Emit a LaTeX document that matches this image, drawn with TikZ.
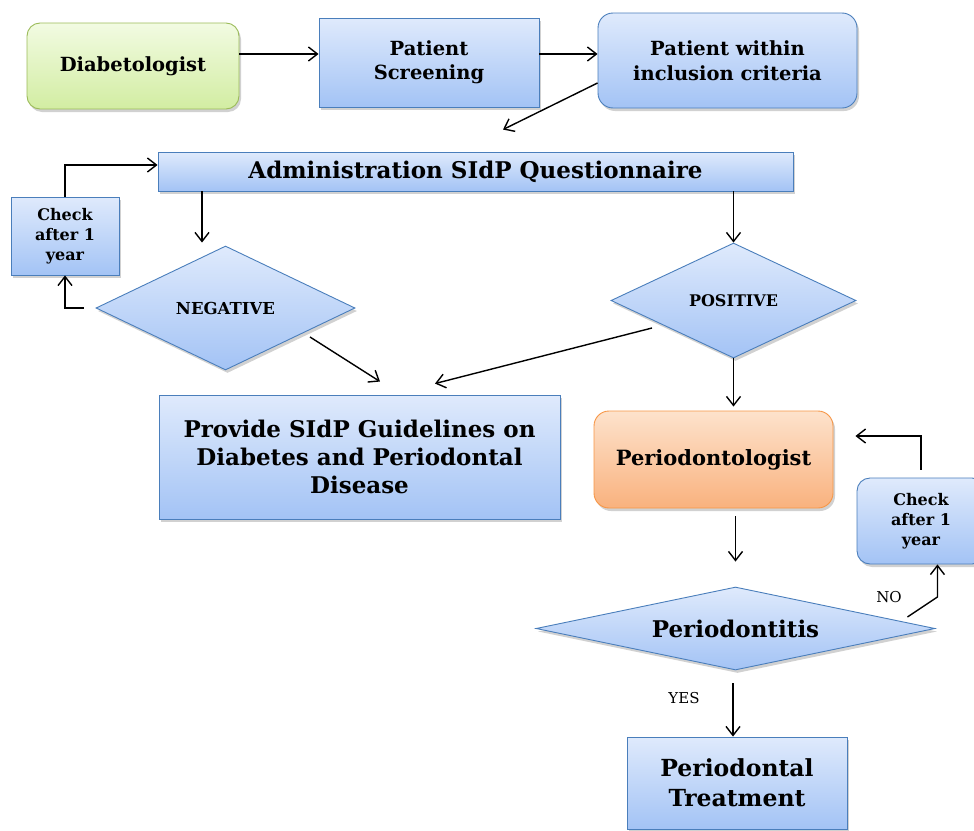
\documentclass[tikz,border=0pt]{standalone}
\usepackage{fontspec}
\setmainfont{DejaVu Serif}
\usetikzlibrary{arrows.meta,shapes.geometric,shadows,calc}
\definecolor{bluetop}{HTML}{DFEAFC}
\definecolor{bluebot}{HTML}{A3C3F5}
\definecolor{blueline}{HTML}{4A7EBB}
\definecolor{greentop}{HTML}{F2FBE2}
\definecolor{greenbot}{HTML}{D2EDA2}
\definecolor{greenline}{HTML}{9BBB59}
\definecolor{orangetop}{HTML}{FDE2CC}
\definecolor{orangebot}{HTML}{F9B27E}
\definecolor{orangeline}{HTML}{F79646}
\newcommand{\fs}[2]{\fontsize{#1}{#2}\selectfont}
\tikzset{
  shad/.style={drop shadow={shadow xshift=2pt,shadow yshift=-3pt,opacity=0.3,fill=black!60}},
  bluebox/.style={shad,draw=blueline,line width=0.9pt,top color=bluetop,bottom color=bluebot,
    align=center,inner sep=2pt},
  greenbox/.style={shad,draw=greenline,line width=0.9pt,top color=greentop,bottom color=greenbot,
    align=center,rounded corners=13pt},
  orangebox/.style={shad,draw=orangeline,line width=0.9pt,top color=orangetop,bottom color=orangebot,
    align=center,rounded corners=15pt},
  dia/.style={bluebox,diamond,inner sep=0pt},
  arr/.style={line width=1.4pt,-{Straight Barb[length=9pt,width=14pt,line width=1.4pt]}},
  lbl/.style={font=\fs{15}{18},inner sep=0pt}
}
\begin{document}
\begin{tikzpicture}[x=1pt,y=-1pt]
\useasboundingbox (0,0) rectangle (974,830);
% nodes
\node[greenbox,minimum width=212pt,minimum height=86pt,font=\bfseries\fs{19.5}{24}] (diab) at (133,66) {Diabetologist};
\node[bluebox,minimum width=220pt,minimum height=89pt,font=\bfseries\fs{19.5}{24}] (ps) at (429,62.5) {Patient\\Screening};
\node[bluebox,rounded corners=15pt,minimum width=259pt,minimum height=95pt,font=\bfseries\fs{19.5}{25}] (pwic) at (727.5,60.5) {Patient within\\inclusion criteria};
\node[bluebox,minimum width=635pt,minimum height=39pt,font=\bfseries\fs{23}{27}] (admin) at (475.5,171.5) {Administration SIdP Questionnaire};
\node[bluebox,minimum width=108pt,minimum height=78pt,font=\bfseries\fs{16}{20}] (chk1) at (65,236) {Check\\after 1\\year};
\node[dia,aspect=2.09,minimum width=259pt,minimum height=124pt,font=\bfseries\fs{16.5}{18}] (neg) at (225.5,308) {NEGATIVE};
\node[dia,aspect=2.13,minimum width=245pt,minimum height=115pt,font=\bfseries\fs{16}{18}] (pos) at (733.5,300.5) {POSITIVE};
\node[bluebox,minimum width=401pt,minimum height=124pt,font=\bfseries\fs{23}{28}] (prov) at (359.5,457) {Provide SIdP Guidelines on\\Diabetes and Periodontal\\Disease};
\node[orangebox,minimum width=239pt,minimum height=97pt,font=\bfseries\fs{21}{25}] (perio) at (713.5,459.5) {Periodontologist};
\node[bluebox,rounded corners=13pt,minimum width=128pt,minimum height=86pt,font=\bfseries\fs{16}{20}] (chk2) at (921,521) {Check\\after 1\\year};
\node[dia,aspect=4.8,minimum width=399pt,minimum height=83pt,font=\bfseries\fs{23}{27}] (pdx) at (735.5,628.5) {Periodontitis};
\node[bluebox,minimum width=220pt,minimum height=92pt,font=\bfseries\fs{23.5}{30}] (treat) at (737,783) {Periodontal\\Treatment};
% labels
\node[lbl] (nolbl) at (889,597) {NO};
\node[lbl] (yeslbl) at (684,698) {YES};
% connectors
\draw[arr] ([yshift=12pt]diab.east) -- ([yshift=12pt]diab.east -| ps.west);
\draw[arr] ([yshift=8.5pt]ps.east) -- ([yshift=8.5pt]ps.east -| pwic.west);
\draw[arr] ($(pwic.west)+(0,22.5)$) -- ($(admin.north)+(27.5,-22)$);
\draw[arr] (chk1.north) |- ($(admin.west)+(0,-6.5)$);
\coordinate (a1) at ($(admin.south)+(-273.5,0)$);
\draw[arr] (a1) -- ($(a1 |- neg.north)+(0,-3)$);
\draw[arr] ($(neg.west)+(-12,0)$) -| (chk1.south);
\draw[arr] ($(neg.center)+(84.5,29)$) -- ($(prov.north)+(20.5,-13)$);
\draw[arr] (admin.south -| pos.north) -- (pos.north);
\draw[arr] ($(pos.center)+(-81.5,27.5)$) -- ($(prov.north)+(75.5,-11)$);
\draw[arr] (pos.south) -- ($(pos.south |- perio.north)+(0,-4)$);
\draw[arr] ($(pdx.north |- perio.south)+(0,8)$) -- ($(pdx.north)+(0,-25)$);
\coordinate (nob) at ($(pdx.east)+(2,-31.5)$);
\draw[arr] ($(pdx.east)+(-28,-11.5)$) -- (nob) -- (nob |- chk2.south);
\draw[arr] ($(chk2.north)+(0,-8)$) |- ($(perio.east)+(22,-23.5)$);
\coordinate (y1) at ($(pdx.south)+(-2.5,13)$);
\draw[arr] (y1) -- (y1 |- treat.north);
\end{tikzpicture}
\end{document}
